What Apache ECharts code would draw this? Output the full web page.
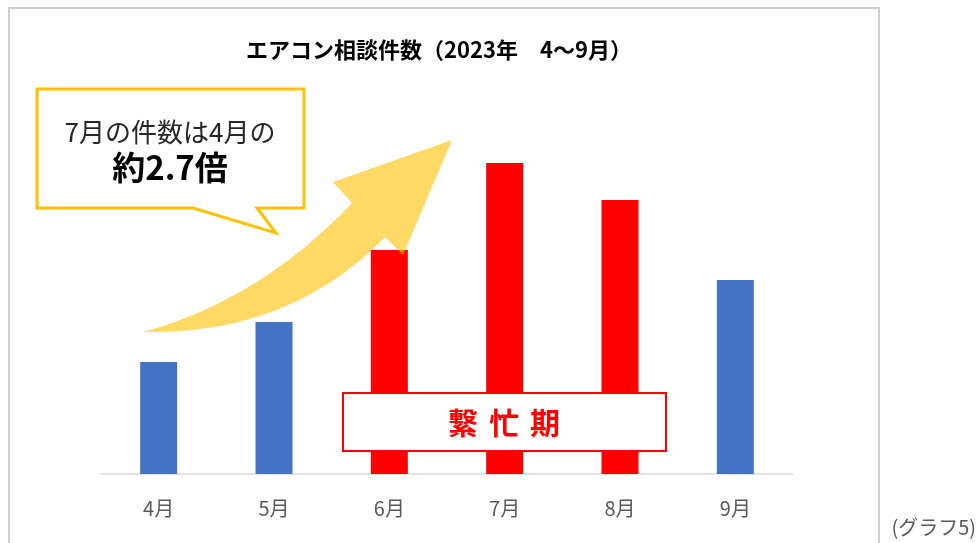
<!DOCTYPE html>
<html>
<head>
<meta charset="utf-8">
<script src="https://cdn.jsdelivr.net/npm/echarts@6/dist/echarts.min.js"></script>
<style>
  html, body { margin: 0; padding: 0; background: #fff; }
  #main { width: 977px; height: 543px; }
</style>
</head>
<body>
<div id="main"></div>
<script>
// エアコン相談件数 (グラフ5)
const months = ['4月', '5月', '6月', '7月', '8月', '9月'];
const counts = [112, 152, 224, 311, 274, 194];
const busyMonths = ['6月', '7月', '8月'];
const busyLabel = ['繋', '忙', '期'];

const FONT = '"Noto Sans CJK JP", "Noto Sans", sans-serif';
const BLUE = '#4472C4';
const RED = '#FF0000';
const YELLOW = '#FFC000';

const chart = echarts.init(document.getElementById('main'));

const barData = months.map((m, i) => ({
    value: counts[i],
    itemStyle: { color: busyMonths.indexOf(m) >= 0 ? RED : BLUE }
}));

// 2次ベジェ曲線を点列にする(矢印の胴体用)
const quad = (p0, c, p1, n) => {
    const pts = [];
    for (let i = 0; i <= n; i++) {
        const t = i / n, u = 1 - t;
        pts.push([
            u * u * p0[0] + 2 * u * t * c[0] + t * t * p1[0],
            u * u * p0[1] + 2 * u * t * c[1] + t * t * p1[1]
        ]);
    }
    return pts;
};
const arrowPoints = []
    .concat(quad([143, 332], [260, 300], [352, 203], 24))
    .concat([[333, 182], [452, 140], [403, 255]])
    .concat(quad([385, 237], [290, 335], [143, 332], 24));

// 繁忙期の文字は1文字ずつ並べる
const busyTexts = busyLabel.map((ch, i) => ({
    type: 'text', z: 102,
    style: {
        text: ch,
        x: 463 + i * 41, y: 423, align: 'center', verticalAlign: 'middle',
        font: 'bold 30px ' + FONT, fill: RED
    }
}));

const option = {
    animation: false,
    textStyle: { fontFamily: FONT },
    grid: { left: 101, right: 184, top: 124, bottom: 69 },
    xAxis: {
        type: 'category',
        data: months,
        axisLine: { lineStyle: { color: '#d9d9d9', width: 1.5 } },
        axisTick: { show: false },
        axisLabel: { color: '#595959', fontSize: 20, margin: 24, fontFamily: FONT }
    },
    yAxis: {
        type: 'value',
        min: 0,
        max: 350,
        show: false,
        splitLine: { show: false }
    },
    series: [
        {
            type: 'bar',
            data: barData,
            barWidth: 37
        }
    ],
    graphic: [
        // 外枠
        {
            type: 'rect', z: 1,
            shape: { x: 9, y: 8, width: 870, height: 580 },
            style: { fill: 'none', stroke: '#d0d0d0', lineWidth: 2 }
        },
        // タイトル
        {
            type: 'text', z: 100,
            style: {
                text: 'エアコン相談件数（2023年　4～9月）',
                x: 439, y: 50, align: 'center', verticalAlign: 'middle',
                font: 'bold 22px ' + FONT, fill: '#000'
            }
        },
        // 矢印
        {
            type: 'polygon', z: 100,
            shape: { points: arrowPoints },
            style: { fill: YELLOW, opacity: 0.6 }
        },
        // 吹き出し
        {
            type: 'polygon', z: 101,
            shape: {
                points: [[37, 89], [304, 89], [304, 208], [257, 208], [276, 233], [193, 208], [37, 208]]
            },
            style: { fill: '#fff', stroke: YELLOW, lineWidth: 3 }
        },
        {
            type: 'text', z: 102,
            style: {
                text: '7月の件数は4月の',
                x: 170, y: 132, align: 'center', verticalAlign: 'middle',
                font: '26px ' + FONT, fill: '#262626'
            }
        },
        {
            type: 'text', z: 102,
            style: {
                text: '約2.7倍',
                x: 170, y: 167, align: 'center', verticalAlign: 'middle',
                font: 'bold 33px ' + FONT, fill: '#000'
            }
        },
        // 繁忙期ラベル
        {
            type: 'rect', z: 101,
            shape: { x: 343, y: 393, width: 323, height: 58 },
            style: { fill: '#fff', stroke: RED, lineWidth: 2 }
        },
        ...busyTexts,
        // 注記
        {
            type: 'text', z: 100,
            style: {
                text: '(グラフ5)',
                x: 976, y: 527, align: 'right', verticalAlign: 'middle',
                font: '20px ' + FONT, fill: '#595959'
            }
        }
    ]
};

chart.setOption(option);
</script>
</body>
</html>
